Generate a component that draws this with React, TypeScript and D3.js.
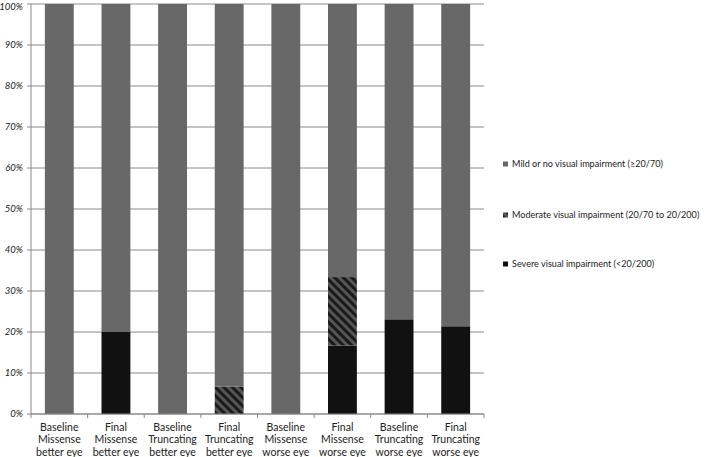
import React from "react";
import * as d3 from "d3";

const categories = [
  ["Baseline", "Missense", "better eye"],
  ["Final", "Missense", "better eye"],
  ["Baseline", "Truncating", "better eye"],
  ["Final", "Truncating", "better eye"],
  ["Baseline", "Missense", "worse eye"],
  ["Final", "Missense", "worse eye"],
  ["Baseline", "Truncating", "worse eye"],
  ["Final", "Truncating", "worse eye"],
];
const severe = [0, 20, 0, 0, 0, 16.7, 23.1, 21.4];
const moderate = [0, 0, 0, 6.7, 0, 16.7, 0, 0];
const mild = [100, 80, 100, 93.3, 100, 66.6, 76.9, 78.6];
const seriesNames = [
  "Mild or no visual impairment (\u226520/70)",
  "Moderate visual impairment (20/70 to 20/200)",
  "Severe visual impairment (<20/200)",
];
const yTicks = [0, 10, 20, 30, 40, 50, 60, 70, 80, 90, 100];

const W = 709, H = 457;
const left = 31, right = 484, top = 4, bottom = 414;

export default function App() {
  const x = d3.scaleBand<number>().domain(d3.range(categories.length)).range([left, right]).paddingInner(0.49).paddingOuter(0.245);
  const y = d3.scaleLinear().domain([0, 100]).range([bottom, top]);
  const step = (right - left) / categories.length;
  const stack = categories.map((_, i) => [
    { key: "severe", y0: 0, y1: severe[i], fill: "#111111" },
    { key: "moderate", y0: severe[i], y1: severe[i] + moderate[i], fill: "url(#hatch)" },
    { key: "mild", y0: severe[i] + moderate[i], y1: severe[i] + moderate[i] + mild[i], fill: "#686868" },
  ]);
  const legendFills = ["#686868", "url(#hatch)", "#111111"];
  const legendY = [164, 215, 264];
  const font = "Lato, Noto Sans, sans-serif";
  return (
    <svg width={W} height={H} style={{ position: "absolute", left: 0, top: 0, background: "#fff" }}>
      <defs>
        <pattern id="hatch" patternUnits="userSpaceOnUse" width="6" height="6" patternTransform="rotate(45)">
          <rect width="6" height="6" fill="#555555" />
          <rect width="6" height="3" fill="#1a1a1a" />
        </pattern>
      </defs>
      <rect x={0} y={0} width={W} height={H} fill="#fff" />
      {yTicks.map((t) => (
        <g key={t}>
          <line x1={left - 4} x2={right} y1={y(t)} y2={y(t)} stroke="#8a8a8a" strokeWidth={1} />
          <text x={23} y={y(t)} dy={t === 100 ? "0.65em" : "0.35em"} textAnchor="end" fontSize={9.6} fontStyle="italic" fontFamily={font} fill="#222">{t}%</text>
        </g>
      ))}
      <line x1={left} x2={left} y1={top} y2={bottom} stroke="#8a8a8a" />
      {stack.map((segs, i) =>
        segs.filter((s) => s.y1 > s.y0).map((s) => (
          <rect key={i + s.key} x={x(i)} width={x.bandwidth()} y={y(s.y1)} height={y(s.y0) - y(s.y1)} fill={s.fill} />
        ))
      )}
      <line x1={left} x2={right} y1={bottom} y2={bottom} stroke="#8a8a8a" />
      {d3.range(categories.length + 1).map((i) => (
        <line key={i} x1={left + i * step} x2={left + i * step} y1={bottom} y2={bottom + 4} stroke="#8a8a8a" />
      ))}
      {categories.map((c, i) => (
        <text key={i} textAnchor="middle" fontSize={10.5} fontFamily={font} fill="#222">
          {c.map((l, j) => (
            <tspan key={j} x={(x(i) as number) + x.bandwidth() / 2} y={431 + j * 12.3}>{l}</tspan>
          ))}
        </text>
      ))}
      {seriesNames.map((n, i) => (
        <g key={n}>
          <rect x={503} y={legendY[i] - 2.5} width={5} height={5} fill={legendFills[i]} />
          <text x={512} y={legendY[i]} dy="0.35em" fontSize={9.1} fontFamily={font} fill="#222">{n}</text>
        </g>
      ))}
    </svg>
  );
}
